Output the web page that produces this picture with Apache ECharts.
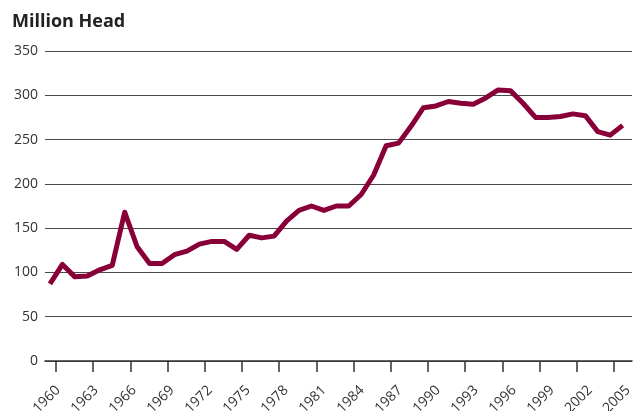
<!DOCTYPE html>
<html>
<head>
<meta charset="utf-8">
<title>Million Head</title>
<script src="https://cdn.jsdelivr.net/npm/echarts@6/dist/echarts.min.js"></script>
<style>
  html, body { margin: 0; padding: 0; background: #fff; }
  #chart { width: 644px; height: 411px; }
</style>
</head>
<body>
<div id="chart"></div>
<script>
// Annual head count, millions
const years = [
  1960, 1961, 1962, 1963, 1964, 1965, 1966, 1967, 1968, 1969,
  1970, 1971, 1972, 1973, 1974, 1975, 1976, 1977, 1978, 1979,
  1980, 1981, 1982, 1983, 1984, 1985, 1986, 1987, 1988, 1989,
  1990, 1991, 1992, 1993, 1994, 1995, 1996, 1997, 1998, 1999,
  2000, 2001, 2002, 2003, 2004, 2005, 2006
];
const headCount = [
  87, 109, 95, 96, 103, 108, 168, 129, 110, 110,
  120, 124, 132, 135, 135, 126, 142, 139, 141, 158,
  170, 175, 170, 175, 175, 188, 210, 243, 246, 265,
  286, 288, 293, 291, 290, 297, 306, 305, 291, 275,
  275, 276, 279, 277, 259, 255, 266
];
// Years along the bottom axis (every third one gets a tick and a label)
const tickYears = [];
for (let y = 1960; y <= 2005; y++) tickYears.push(String(y));
const yTicks = { min: 0, max: 350, step: 50 };

const FONT = '"Open Sans", "Noto Sans", sans-serif';
const INK = '#333';

const chart = echarts.init(document.getElementById('chart'), null, { renderer: 'canvas' });

const gridBase = { top: 51, bottom: 50, containLabel: false, outerBoundsMode: 'none' };

chart.setOption({
  animation: false,
  backgroundColor: '#fff',
  title: {
    text: 'Million Head',
    left: 7,
    top: 8,
    textStyle: { fontFamily: FONT, fontSize: 18, fontWeight: 'bold', color: '#222' }
  },
  grid: [
    Object.assign({ left: 45, right: 12 }, gridBase),   // plot area + data
    Object.assign({ left: 56, right: 30 }, gridBase),   // tick marks
    Object.assign({ left: 58, right: 16 }, gridBase)    // year labels
  ],
  xAxis: [
    {
      type: 'value',
      gridIndex: 0,
      min: 1959.6,
      max: 2006.75,
      axisLine: { show: true, lineStyle: { color: INK, width: 1.5 } },
      axisTick: { show: false },
      axisLabel: { show: false },
      splitLine: { show: false }
    },
    {
      type: 'category',
      gridIndex: 1,
      data: tickYears,
      boundaryGap: false,
      axisLine: { show: false },
      axisTick: {
        show: true,
        interval: 2,
        length: 11,
        lineStyle: { color: INK, width: 1.5 }
      },
      axisLabel: { show: false },
      splitLine: { show: false }
    },
    {
      type: 'category',
      gridIndex: 2,
      data: tickYears,
      boundaryGap: false,
      axisLine: { show: false },
      axisTick: { show: false },
      axisLabel: {
        interval: 2,
        rotate: 45,
        margin: 27,
        hideOverlap: false,
        fontFamily: FONT,
        fontSize: 14,
        color: INK
      },
      splitLine: { show: false }
    }
  ],
  yAxis: [
    {
      type: 'value',
      gridIndex: 0,
      min: yTicks.min,
      max: yTicks.max,
      interval: yTicks.step,
      axisLine: { show: false },
      axisTick: { show: false },
      axisLabel: { margin: 7, fontFamily: FONT, fontSize: 14, color: INK },
      splitLine: { show: true, lineStyle: { color: '#4a4a4a', width: 1.2 } }
    },
    { type: 'value', gridIndex: 1, min: yTicks.min, max: yTicks.max, show: false },
    { type: 'value', gridIndex: 2, min: yTicks.min, max: yTicks.max, show: false }
  ],
  series: [
    {
      type: 'line',
      xAxisIndex: 0,
      yAxisIndex: 0,
      data: years.map((y, i) => [y, headCount[i]]),
      symbol: 'none',
      lineStyle: { color: '#890038', width: 5, join: 'round', cap: 'butt' }
    }
  ]
});
</script>
</body>
</html>
